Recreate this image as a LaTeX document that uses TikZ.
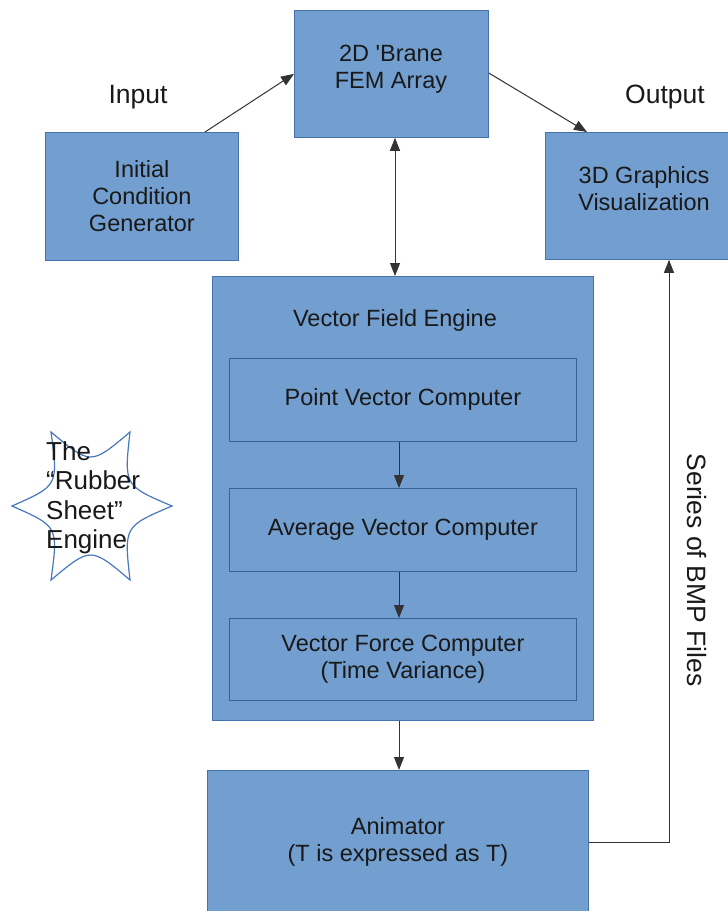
\documentclass[tikz,border=0pt]{standalone}
\usepackage{fontspec}
\setmainfont{Liberation Sans}[Ligatures=TeXOff]
\usetikzlibrary{calc,arrows.meta}
\definecolor{boxfill}{RGB}{114,159,207}
\definecolor{boxline}{RGB}{69,114,174}
\definecolor{starline}{RGB}{70,120,190}
\tikzset{
  boxfont/.style={font=\fontsize{23.5}{27}\selectfont, text=black!90},
  blk/.style={draw=boxline, line width=0.8pt, fill=boxfill, inner sep=0pt, align=center, boxfont},
  arr/.style={draw=black!80, line width=1pt, -{Triangle[length=13pt,width=10pt]}},
  darr/.style={draw=black!80, line width=1pt, {Triangle[length=13pt,width=10pt]}-{Triangle[length=13pt,width=10pt]}},
  lbl/.style={font=\fontsize{26.5}{30}\selectfont, text=black!90, inner sep=0pt},
}
\begin{document}
\begin{tikzpicture}[x=1pt,y=-1pt]
\useasboundingbox (0,0) rectangle (728,911);
% boxes
\node[blk, minimum width=194pt, minimum height=127pt, anchor=north west] (brane) at (294,10) {};
\node[align=center, boxfont] (branet) at (391,69) {2D 'Brane\\FEM Array};
\node[blk, minimum width=193pt, minimum height=128pt, anchor=north west] (init) at (45,132) {Initial\\Condition\\Generator};
\node[blk, minimum width=190pt, minimum height=127pt, anchor=north west] (vis) at (545,132) {};
\node[align=center, boxfont] (vist) at (644,189) {3D Graphics\\Visualization};
\node[lbl] (inlbl) at (138,97) {Input};
\node[lbl] (outlbl) at (665,97) {Output};
% vector field engine
\node[blk, minimum width=381pt, minimum height=444pt, anchor=north west] (vfe) at (212,276) {};
\node[boxfont] (vfet) at (395,320) {Vector Field Engine};
\node[blk, draw=boxline!85!black, minimum width=347pt, minimum height=83pt, anchor=north west] (pvc) at (229,358) {Point Vector Computer};
\node[blk, draw=boxline!85!black, minimum width=347pt, minimum height=83pt, anchor=north west] (avc) at (229,488) {Average Vector Computer};
\node[blk, draw=boxline!85!black, minimum width=347pt, minimum height=82pt, anchor=north west] (vfc) at (229,618) {Vector Force Computer\\(Time Variance)};
% animator
\node[blk, minimum width=381pt, minimum height=150pt, anchor=north west] (anim) at (207,770) {};
\node[align=center, boxfont] (animt) at (398,842) {Animator\\(T is expressed as T)};
% connectors
\draw[arr] (init.north west) ++(160,0) coordinate (a1) -- (brane.west);
\coordinate (b1) at ($(brane.north east)+(0,63)$);
\coordinate (b2) at ($(vis.north west)+(42,0)$);
\draw[arr] (b1) -- (b2);
\draw[darr] ($(brane.south west)+(101,0)$) coordinate (c1) -- (c1 |- vfe.north);
\draw[arr] ($(pvc.south west)+(170,0)$) coordinate (d1) -- (d1 |- avc.north);
\draw[arr] ($(avc.south west)+(170,0)$) coordinate (d2) -- (d2 |- vfc.north);
\draw[arr] ($(vfe.south west)+(187,0)$) coordinate (d3) -- (d3 |- anim.north);
\coordinate (e1) at (anim.east |- animt.center);
\coordinate (e2) at ($(vis.south west)+(124,0)$);
\draw[arr] (e1) -| (e2);
\node[lbl, rotate=-90] (bmp) at (697,570) {Series of BMP Files};
% star
\coordinate (sc) at (91,506);
\coordinate (s1) at (12,506);
\coordinate (s2) at (51,432);
\coordinate (s3) at (130,432);
\coordinate (s4) at (172,506);
\coordinate (s5) at (130,580);
\coordinate (s6) at (51,580);
\draw[starline, line width=1.2pt, fill=white, line join=miter]
  (s1) .. controls ($(s1)!0.5!(s2)!0.45!(sc)$) .. (s2)
       .. controls ($(s2)!0.5!(s3)!0.45!(sc)$) .. (s3)
       .. controls ($(s3)!0.5!(s4)!0.45!(sc)$) .. (s4)
       .. controls ($(s4)!0.5!(s5)!0.45!(sc)$) .. (s5)
       .. controls ($(s5)!0.5!(s6)!0.45!(sc)$) .. (s6)
       .. controls ($(s6)!0.5!(s1)!0.45!(sc)$) .. (s1) -- cycle;
\node[align=left, anchor=north west, inner sep=0pt, font=\fontsize{26}{29.5}\selectfont, text=black!90] (star) at (46,441) {The\\“Rubber\\Sheet”\\Engine};
\end{tikzpicture}
\end{document}
